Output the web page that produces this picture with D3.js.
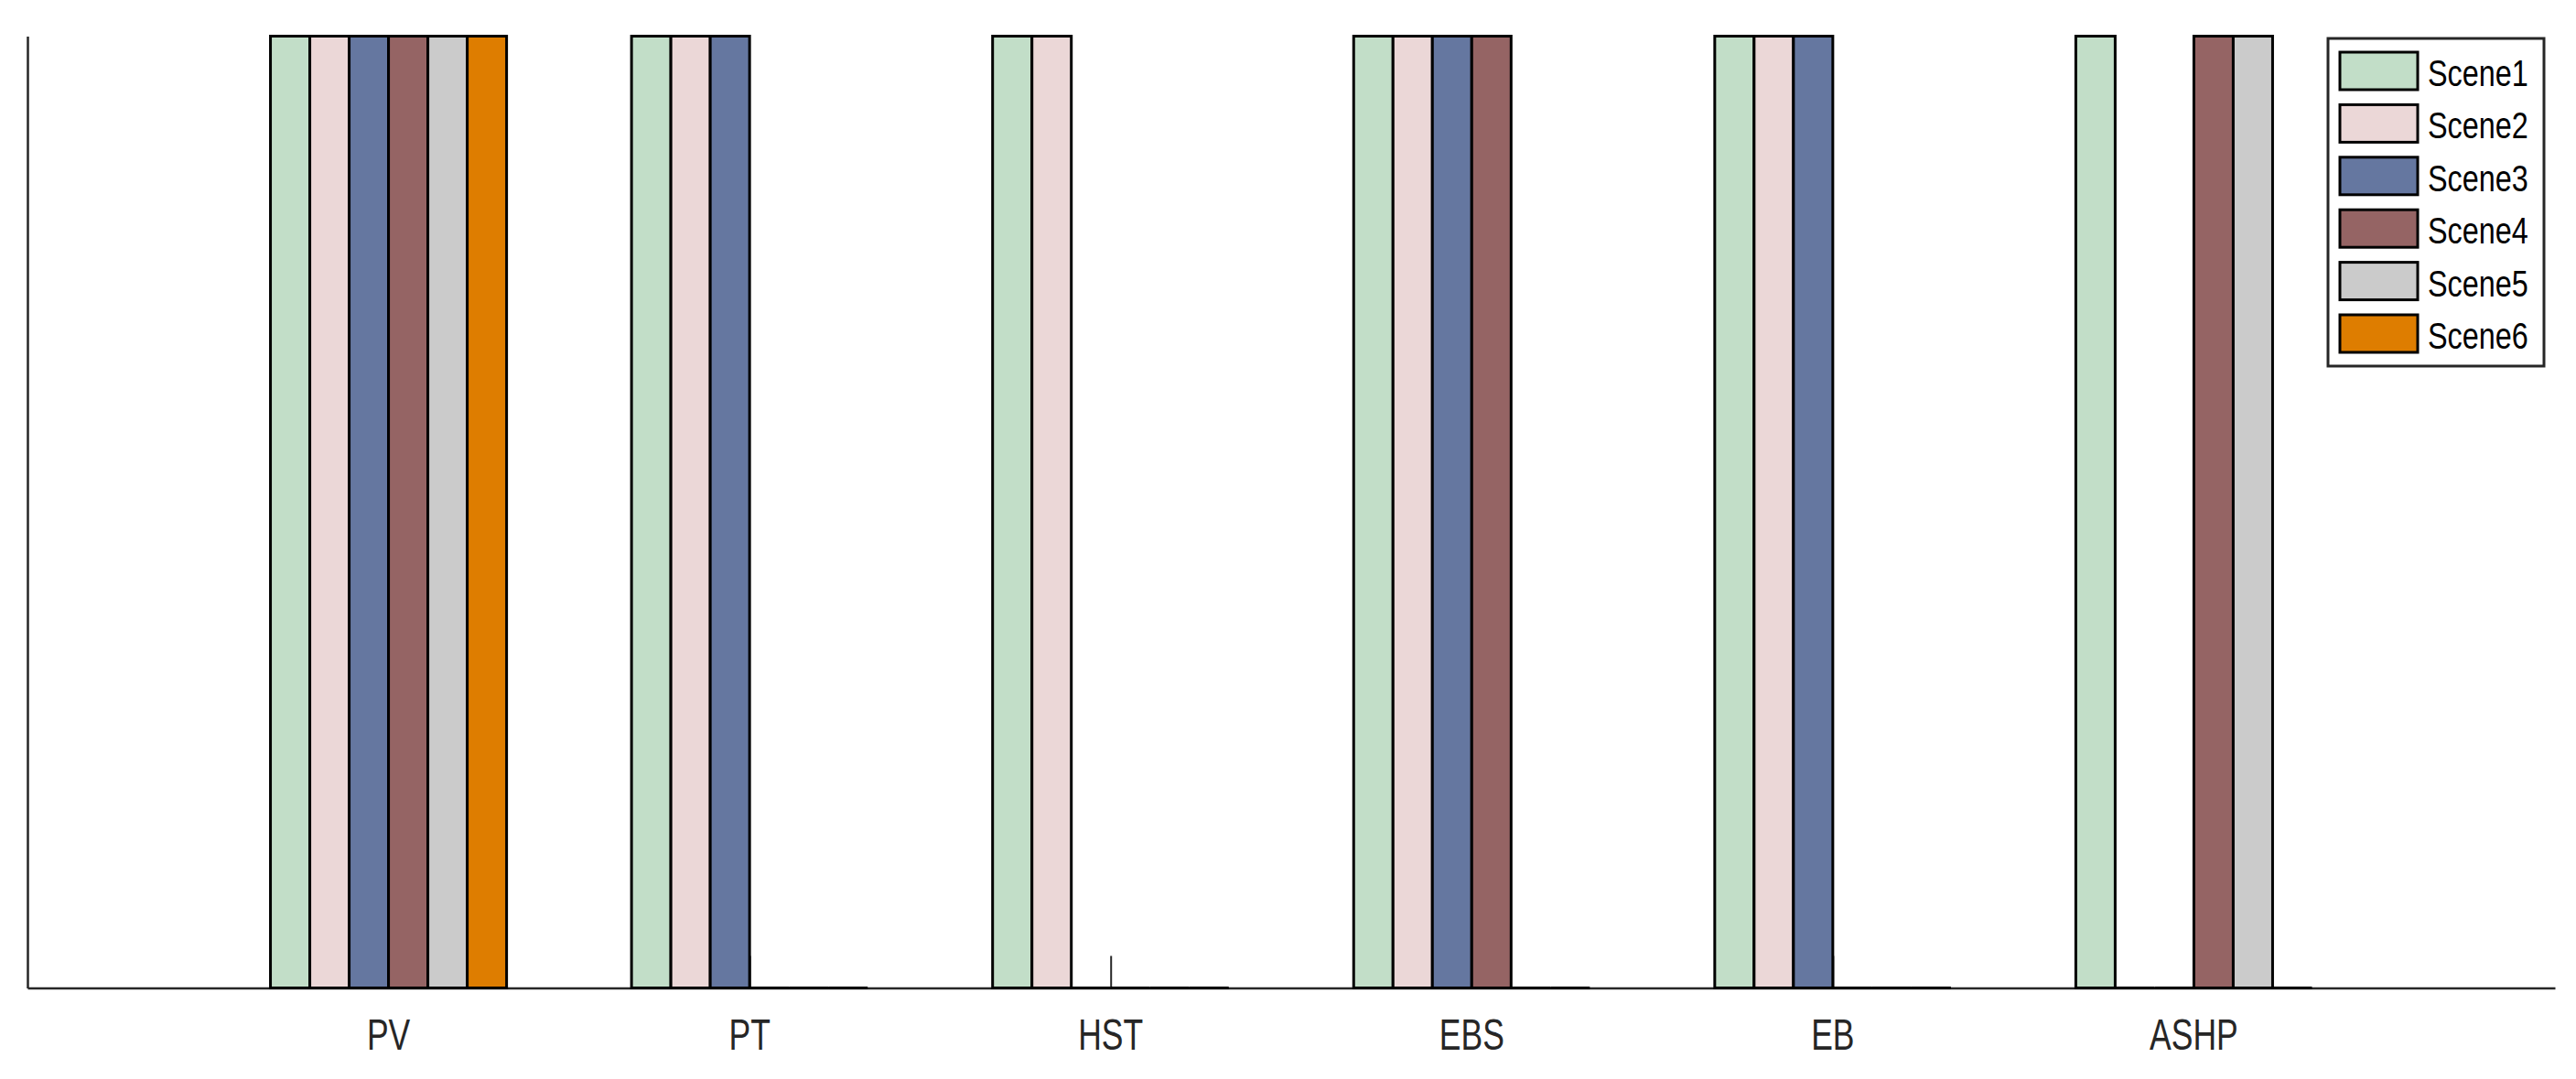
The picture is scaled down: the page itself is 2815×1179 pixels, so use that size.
<!DOCTYPE html>
<html>
<head>
<meta charset="utf-8">
<script src="https://cdn.jsdelivr.net/npm/d3@7"></script>
<style>
  html, body { margin: 0; padding: 0; background: #ffffff; }
  svg { display: block; }
  text { font-family: "Liberation Sans", Arial, Helvetica, sans-serif; }
</style>
</head>
<body>
<svg id="chart" width="2815" height="1179"></svg>
<script>
// ---- data ----
const categories = ["PV", "PT", "HST", "EBS", "EB", "ASHP"];
const seriesNames = ["Scene1", "Scene2", "Scene3", "Scene4", "Scene5", "Scene6"];
const scene1 = [1, 1, 1, 1, 1, 1];
const scene2 = [1, 1, 1, 1, 1, 0];
const scene3 = [1, 1, 0, 1, 1, 0];
const scene4 = [1, 0, 0, 1, 0, 1];
const scene5 = [1, 0, 0, 0, 0, 1];
const scene6 = [1, 0, 0, 0, 0, 0];
const seriesValues = [scene1, scene2, scene3, scene4, scene5, scene6];
const seriesColors = ["#c2dec8", "#ebd7d7", "#6577a0", "#956464", "#cbcbcb", "#de7d00"];

// ---- layout ----
const W = 2815, H = 1179;
const plot = { left: 30, right: 2792, top: 39.5, bottom: 1079.5 };
const axisColor = "#262626";
const svg = d3.select("#chart");

const x = d3.scaleLinear().domain([0, categories.length + 1]).range([plot.left, plot.right]);
const y = d3.scaleLinear().domain([0, 1]).range([plot.bottom, plot.top]);
const step = x(1) - x(0);
const groupW = step * 0.654;
const inner = d3.scaleBand().domain(seriesNames).range([-groupW / 2, groupW / 2]).padding(0);

// axes (drawn first so ticks sit behind bars)
const xAxis = d3.axisBottom(x)
  .tickValues(categories.map((d, i) => i + 1))
  .tickSizeInner(-35)
  .tickSizeOuter(0)
  .tickFormat("");
const gx = svg.append("g").attr("transform", `translate(0,${plot.bottom})`).call(xAxis);
gx.select(".domain").attr("stroke", axisColor).attr("stroke-width", 2.5);
gx.selectAll(".tick line").attr("stroke", axisColor).attr("stroke-width", 2);

const yAxis = d3.axisLeft(y).tickValues([]).tickSizeOuter(0);
const gy = svg.append("g").attr("transform", `translate(${plot.left},0)`).call(yAxis);
gy.select(".domain").attr("stroke", axisColor).attr("stroke-width", 2.5);

// tick labels
svg.append("g").selectAll("text")
  .data(categories)
  .join("text")
  .attr("transform", (d, i) => `translate(${x(i + 1)},1147) scale(1,1.33)`)
  .attr("text-anchor", "middle")
  .attr("font-size", 35.5)
  .attr("fill", axisColor)
  .text(d => d);

// bars
const bars = [];
seriesNames.forEach((s, si) => {
  categories.forEach((c, ci) => {
    bars.push({ s, si, ci, v: seriesValues[si][ci] });
  });
});
svg.append("g").selectAll("path")
  .data(bars)
  .join("path")
  .attr("d", d => {
    const x0 = x(d.ci + 1) + inner(d.s);
    const x1 = x0 + inner.bandwidth();
    const y0 = y(0), y1 = y(d.v);
    return `M${x0},${y0}H${x1}V${y1}H${x0}Z`;
  })
  .attr("fill", d => seriesColors[d.si])
  .attr("stroke", "#000")
  .attr("stroke-width", 3)
  .attr("stroke-linejoin", "miter");

// legend
const lg = svg.append("g");
lg.append("rect")
  .attr("x", 2544).attr("y", 42).attr("width", 236).attr("height", 358)
  .attr("fill", "#fff").attr("stroke", axisColor).attr("stroke-width", 3);
const rowH = 57.4;
const items = lg.selectAll("g.item").data(seriesNames).join("g").attr("class", "item");
items.append("rect")
  .attr("x", 2557).attr("y", (d, i) => 57 + i * rowH)
  .attr("width", 85).attr("height", 41)
  .attr("fill", (d, i) => seriesColors[i])
  .attr("stroke", "#000").attr("stroke-width", 3);
items.append("text")
  .attr("transform", (d, i) => `translate(2653,${94 + i * rowH}) scale(1,1.27)`)
  .attr("font-size", 32.4)
  .attr("fill", "#000")
  .text(d => d);
</script>
</body>
</html>
